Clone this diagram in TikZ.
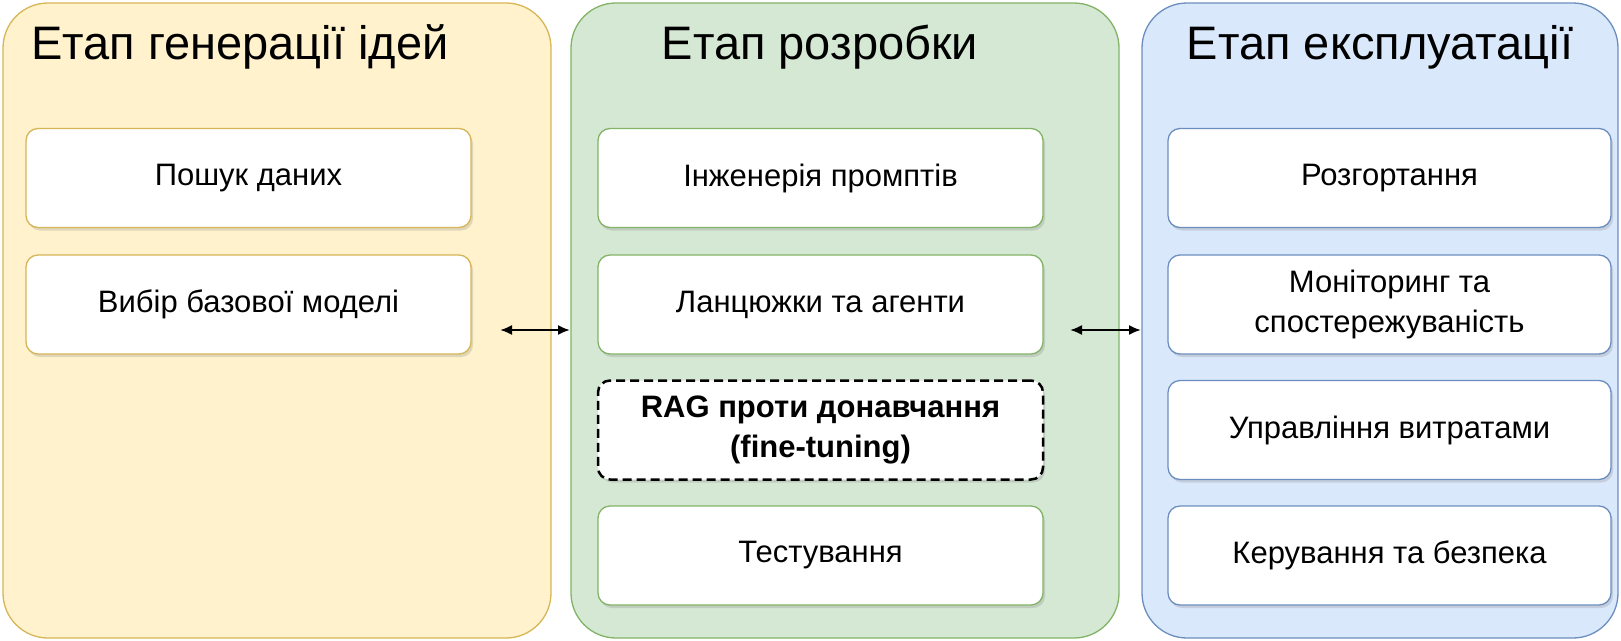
\documentclass[tikz,border=0pt]{standalone}
\usepackage{fontspec}
\setmainfont{Liberation Sans}
\usetikzlibrary{shadows, arrows.meta}
\begin{document}
\begin{tikzpicture}[x=1pt, y=-1pt,
  panel/.style = {rounded corners=45pt, line width=1.3pt},
  title/.style = {font=\fontsize{47}{52}\selectfont},
  item/.style = {draw=#1, fill=white, rounded corners=12pt, line width=1.3pt,
    minimum width=445pt, minimum height=99pt, align=center,
    font=\fontsize{31}{40}\selectfont,
    drop shadow={shadow xshift=2pt, shadow yshift=-3pt, opacity=.25}},
  link/.style = {{Latex[length=12pt, width=10pt]}-{Latex[length=12pt, width=10pt]}, line width=2pt}]
\useasboundingbox (0,0) rectangle (1621,640);
\definecolor{yfill}{HTML}{FFF2CC}\definecolor{ydraw}{HTML}{D6B656}
\definecolor{gfill}{HTML}{D5E8D4}\definecolor{gdraw}{HTML}{82B366}
\definecolor{bfill}{HTML}{DAE8FC}\definecolor{bdraw}{HTML}{6C8EBF}
% panels
\draw[panel, fill=yfill, draw=ydraw] (3,3) rectangle (551,638);
\draw[panel, fill=gfill, draw=gdraw] (571,3) rectangle (1119,638);
\draw[panel, fill=bfill, draw=bdraw] (1142,3) rectangle (1618,638);
\node[title] (tIdea) at (240,47) {Етап генерації ідей};
\node[title] (tDev) at (820,47) {Етап розробки};
\node[title] (tOps) at (1380,47) {Етап експлуатації};
% items
\node[item=ydraw] (data) at (248.5,178) {Пошук даних};
\node[item=ydraw] (model) at (248.5,304.5) {Вибір базової моделі};
\node[item=gdraw] (prompt) at (820.5,178) {Інженерія промптів};
\node[item=gdraw] (chains) at (820.5,304.5) {Ланцюжки та агенти};
\node[item=black, dashed, dash pattern=on 9pt off 5pt, line width=2.5pt,
  font=\fontsize{31}{40}\selectfont\bfseries] (rag) at (820.5,430) {RAG проти донавчання\\(fine-tuning)};
\node[item=gdraw] (tests) at (820.5,555.5) {Тестування};
\node[item=bdraw, minimum width=443pt] (deploy) at (1389.5,178) {Розгортання};
\node[item=bdraw, minimum width=443pt] (monitor) at (1389.5,304.5) {Моніторинг та\\спостережуваність};
\node[item=bdraw, minimum width=443pt] (costs) at (1389.5,430) {Управління витратами};
\node[item=bdraw, minimum width=443pt] (govern) at (1389.5,555.5) {Керування та безпека};
% links
\coordinate (a1) at (500,330);
\coordinate (a2) at (570,330);
\coordinate (b1) at (1070,330);
\coordinate (b2) at (1141,330);
\draw[link] (a1) -- (a2);
\draw[link] (b1) -- (b2);
\end{tikzpicture}
\end{document}
